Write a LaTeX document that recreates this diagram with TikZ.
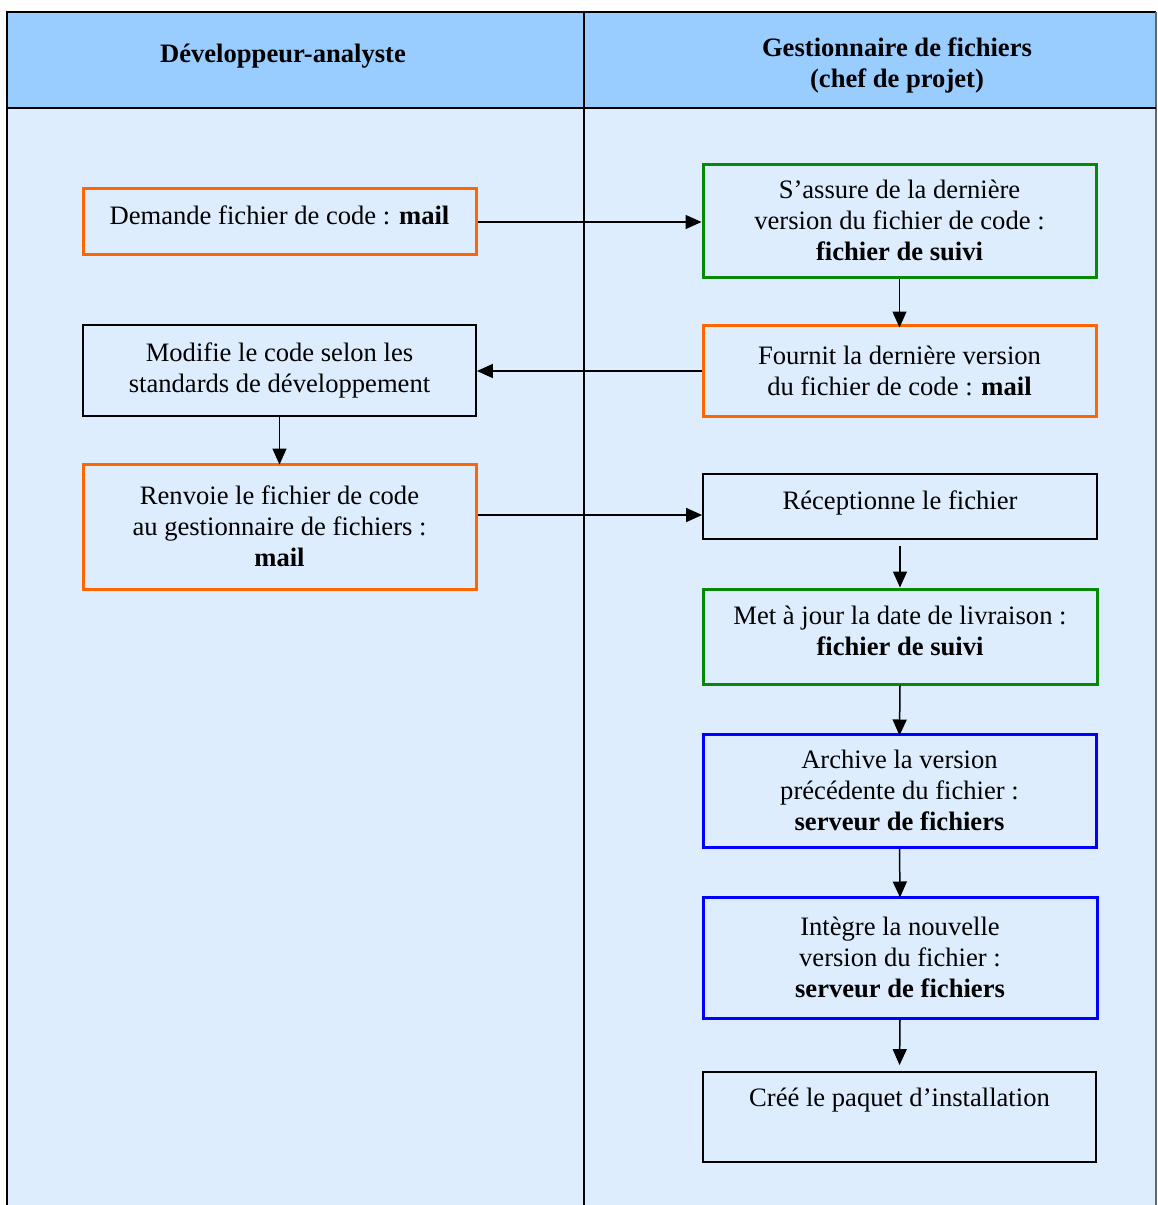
\documentclass[tikz,border=0pt]{standalone}
\usepackage{fontspec}
\setmainfont{LiberationSerif}[Extension=.ttf, UprightFont=*-Regular, BoldFont=*-Bold, ItalicFont=*-Italic, BoldItalicFont=*-BoldItalic]
\usetikzlibrary{arrows.meta}
\definecolor{hdr}{HTML}{99CCFF}
\definecolor{bdy}{HTML}{DDEDFD}
\definecolor{orng}{HTML}{FF6600}
\definecolor{grn}{HTML}{068A06}
\definecolor{blu}{HTML}{0000FF}
\tikzset{
  px/.style={x=0.5pt,y=-0.5pt},
  box/.style={rectangle, inner sep=0pt, minimum width=196.5pt, align=center,
    font=\fontsize{13.3}{15.5}\selectfont},
  obox/.style={box, draw=orng, line width=1.5pt},
  gbox/.style={box, draw=grn, line width=1.5pt},
  bbox/.style={box, draw=blu, line width=1.5pt},
  kbox/.style={box, draw=black, line width=0.9pt},
  conn/.style={draw=black, line width=0.75pt, -{Triangle[length=8pt,width=7pt]}},
  hdrtext/.style={font=\fontsize{13.3}{15.5}\selectfont\bfseries, align=center}
}
\begin{document}
\begin{tikzpicture}[px]
\useasboundingbox (0,0) rectangle (1157,1205);
% lanes
\fill[bdy] (7,108) rectangle (1156,1205);
\fill[hdr] (7,12) rectangle (1156,108);
\draw[line width=1pt] (7,1205) -- (7,12) -- (1156,12);
\draw[line width=0.6pt, draw=black!60] (1156,12) -- (1156,1205);
\draw[line width=1pt] (7,108) -- (1156,108);
\draw[line width=0.9pt] (584,12) -- (584,1205);
\node[hdrtext] (h1) at (283,56) {Développeur-analyste};
\node[hdrtext] (h2) at (897,65) {Gestionnaire de fichiers\\(chef de projet)};
% boxes
\node[obox, minimum height=33pt, text depth=5.5pt] (a1) at (279.5,221) {Demande fichier de code : \textbf{mail}};
\node[gbox, minimum height=56.5pt] (b1) at (899.5,220.5) {S’assure de la dernière\\version du fichier de code :\\\textbf{fichier de suivi}};
\node[obox, minimum height=45.5pt] (b2) at (899.5,370.5) {Fournit la dernière version\\du fichier de code : \textbf{mail}};
\node[kbox, minimum height=45.5pt] (a2) at (279.5,370.5) {Modifie le code selon les\\standards de développement};
\node[obox, minimum height=62.5pt] (a3) at (279.5,526.5) {Renvoie le fichier de code\\au gestionnaire de fichiers :\\\textbf{mail}};
\node[kbox, minimum width=197pt, minimum height=32.5pt, text depth=6pt] (b3) at (900,506.5) {Réceptionne le fichier};
\node[gbox, minimum width=197pt, minimum height=47.5pt, text depth=5.5pt] (b4) at (900,636.5) {Met à jour la date de livraison :\\\textbf{fichier de suivi}};
\node[bbox, minimum height=56.5pt] (b5) at (899.5,790.5) {Archive la version\\précédente du fichier :\\\textbf{serveur de fichiers}};
\node[bbox, minimum width=197pt, minimum height=60.5pt] (b6) at (900,957.5) {Intègre la nouvelle\\version du fichier :\\\textbf{serveur de fichiers}};
\node[kbox, minimum height=45pt] (b7) at (899.5,1117) {Créé le paquet d’installation\\\strut};
% connectors
\draw[conn] (a1.east |- 0,222) -- (b1.west |- 0,222);
\draw[conn] (b1.south) -- ([yshift=-2pt]b2.north);
\draw[conn] (b2.west |- 0,371) -- (a2.east |- 0,371);
\draw[conn] (a2.south) -- ([yshift=-1pt]a3.north);
\draw[conn] (a3.east |- 0,515) -- (b3.west |- 0,515);
\draw[conn, shorten <=3pt] (b3.south) -- (b4.north);
\draw[conn] (b4.south) -- ([yshift=-1.5pt]b5.north);
\draw[conn] (b5.south) -- ([yshift=-1pt]b6.north);
\draw[conn, shorten >=3pt] (b6.south) -- (b7.north);
\end{tikzpicture}
\end{document}
